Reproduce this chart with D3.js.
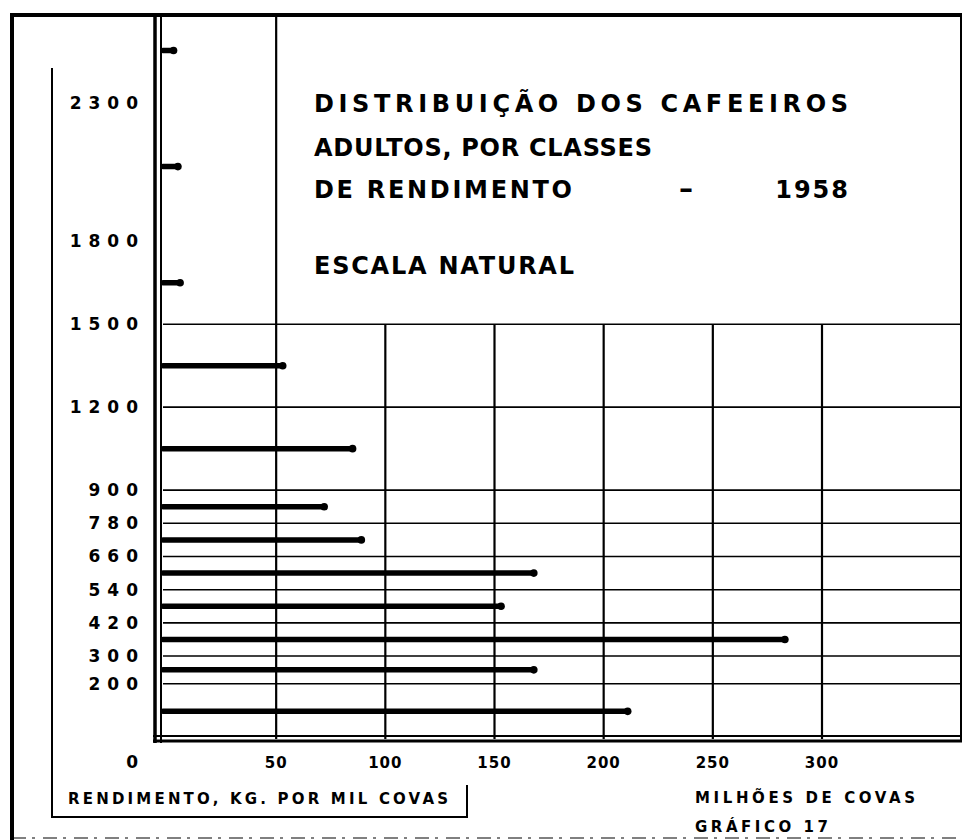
<!DOCTYPE html>
<html>
<head>
<meta charset="utf-8">
<script src="https://cdn.jsdelivr.net/npm/d3@7"></script>
<style>
  body { margin: 0; background: #fff; }
  svg text { font-family: "DejaVu Sans", sans-serif; font-weight: bold; fill: #000; }
</style>
</head>
<body>
<script>
// rendimento (kg por mil covas) where each class bar sits
var rendimento = [100, 250, 360, 480, 600, 720, 840, 1050, 1350, 1650, 2070, 2490];
// milhoes de covas in each class
var milhoesCovas = [211, 168, 283, 153, 168, 89, 72, 85, 53, 6, 5, 3];

// class limits printed on the vertical axis
var yTicks = [0, 200, 300, 420, 540, 660, 780, 900, 1200, 1500, 1800, 2300];
var yGrid = [200, 300, 420, 540, 660, 780, 900, 1200, 1500];
var xTicks = [50, 100, 150, 200, 250, 300];

var titleLines = ["DISTRIBUIÇÃO DOS CAFEEIROS", "ADULTOS, POR CLASSES", "DE RENDIMENTO"];
var titleYear = "1958";
var subTitle = "ESCALA NATURAL";
var yLabel = "RENDIMENTO, KG. POR MIL COVAS";
var xLabel = "MILHÕES DE COVAS";
var graficoLabel = "GRÁFICO 17";

var config = {
  w: 962,
  h: 840,
  top: 15,
  right: 961,
  frameLeft: 12,
  yLabelLeft: 52
};

var svg = d3.select("body")
  .append("svg")
  .attr("width", config.w)
  .attr("height", config.h);

var x = d3.scaleLinear().domain([0, 300]).range([167, 822]);
var y = d3.scaleLinear().domain([0, 2300]).range([739, 103]);

var x0 = x(0), yBase = y(0);

function line(x1, y1, x2, y2, w, extra) {
  var l = svg.append("line")
    .attr("x1", x1).attr("y1", y1)
    .attr("x2", x2).attr("y2", y2)
    .attr("stroke", "#000")
    .attr("stroke-width", w);
  if (extra) l.attr("stroke-dasharray", extra);
  return l;
}

// outer frame
line(config.frameLeft, config.top - 2, config.frameLeft, config.h, 4);
line(config.frameLeft, config.top, config.w, config.top, 4);
line(config.frameLeft, config.h - 2, config.w, config.h - 2, 1, "14 6 3 8");
line(config.right, config.top, config.right, yBase + 3, 2);

// bracket round the y label column
line(config.yLabelLeft, 68, config.yLabelLeft, 817, 2);
line(config.yLabelLeft - 1, 817, 467, 817, 2);
line(467, 785, 467, 818, 2);

// horizontal grid (class limits)
svg.append("g").selectAll("line")
  .data(yGrid)
  .enter().append("line")
  .attr("x1", x0 - 4)
  .attr("x2", config.w)
  .attr("y1", function(d) { return y(d); })
  .attr("y2", function(d) { return y(d); })
  .attr("stroke", "#000")
  .attr("stroke-width", 1.6);

// vertical grid, the 50 line runs up to the frame (edge of the title box)
svg.append("g").selectAll("line")
  .data(xTicks)
  .enter().append("line")
  .attr("x1", function(d) { return x(d); })
  .attr("x2", function(d) { return x(d); })
  .attr("y1", function(d) { return d == 50 ? config.top : y(1500); })
  .attr("y2", yBase)
  .attr("stroke", "#000")
  .attr("stroke-width", 2.2);

// double axis lines
line(x0 - 12, config.top, x0 - 12, yBase + 4, 3.5);
line(x0 - 6, config.top, x0 - 6, yBase + 4, 2);
line(x0 - 14, yBase - 3, config.w, yBase - 3, 2);
line(x0 - 14, yBase + 2, config.w, yBase + 2, 3);

// bars
var bars = svg.append("g");
bars.selectAll("line")
  .data(milhoesCovas)
  .enter().append("line")
  .attr("x1", x0 - 4)
  .attr("x2", function(d) { return x(d); })
  .attr("y1", function(d, i) { return y(rendimento[i]); })
  .attr("y2", function(d, i) { return y(rendimento[i]); })
  .attr("stroke", "#000")
  .attr("stroke-width", 5.5)
  .attr("stroke-linecap", "round");

bars.selectAll("circle")
  .data(milhoesCovas)
  .enter().append("circle")
  .attr("cx", function(d) { return x(d); })
  .attr("cy", function(d, i) { return y(rendimento[i]); })
  .attr("r", 3.8)
  .attr("fill", "#000");

// y tick labels (0 sits on the row of the x labels)
var ls = 7;
svg.append("g").selectAll("text")
  .data(yTicks)
  .enter().append("text")
  .attr("x", 138 + ls)
  .attr("y", function(d) { return d == 0 ? yBase + 29 : y(d) + 6; })
  .attr("text-anchor", "end")
  .style("font-size", "17px")
  .style("letter-spacing", ls + "px")
  .text(function(d) { return d; });

// x tick labels
svg.append("g").selectAll("text")
  .data(xTicks)
  .enter().append("text")
  .attr("x", function(d) { return x(d); })
  .attr("y", yBase + 29)
  .attr("text-anchor", "middle")
  .style("font-size", "15px")
  .style("letter-spacing", "1px")
  .text(function(d) { return d; });

// axis titles
svg.append("text")
  .attr("x", 68).attr("y", 804)
  .attr("textLength", 380)
  .attr("lengthAdjust", "spacing")
  .style("font-size", "15px")
  .text(yLabel);

svg.append("text")
  .attr("x", 695).attr("y", 803)
  .attr("textLength", 220)
  .attr("lengthAdjust", "spacing")
  .style("font-size", "15px")
  .text(xLabel);

svg.append("text")
  .attr("x", 695).attr("y", 832)
  .attr("textLength", 133)
  .attr("lengthAdjust", "spacing")
  .style("font-size", "15px")
  .text(graficoLabel);

// title block
var title = svg.append("g").style("font-size", "24px");
var titleLen = [534, 338, 258];
var titleBase = [112, 156, 198];
titleLines.forEach(function(t, i) {
  title.append("text")
    .attr("x", 314).attr("y", titleBase[i])
    .attr("textLength", titleLen[i])
    .attr("lengthAdjust", "spacing")
    .text(t);
});
title.append("text")
  .attr("x", 679).attr("y", titleBase[2])
  .style("font-size", "28px")
  .text("\u2013");
title.append("text")
  .attr("x", 848 + 2).attr("y", titleBase[2])
  .attr("text-anchor", "end")
  .style("letter-spacing", "2px")
  .text(titleYear);
title.append("text")
  .attr("x", 314).attr("y", 274)
  .attr("textLength", 260)
  .attr("lengthAdjust", "spacing")
  .text(subTitle);
</script>
</body>
</html>
